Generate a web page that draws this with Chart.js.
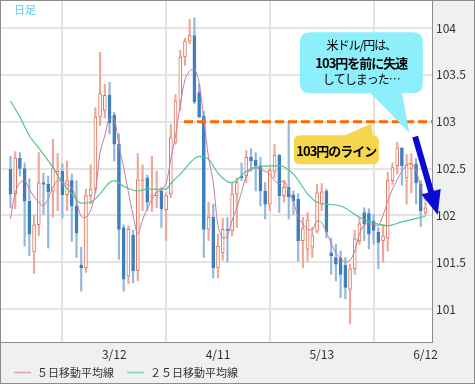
<!DOCTYPE html>
<html>
<head>
<meta charset="utf-8">
<script src="https://cdn.jsdelivr.net/npm/chart.js@4.4.1/dist/chart.umd.min.js"></script>
<style>
  html, body { margin: 0; padding: 0; background: #f0f0f0; }
  #wrap { width: 475px; height: 384px; }
</style>
</head>
<body>
<div id="wrap"><canvas id="usdjpy" width="475" height="384"></canvas></div>
<script>
// trading days (2014) - one candle per day
const dates = [
  '2/10','2/11','2/12','2/13','2/14','2/17','2/18','2/19','2/20','2/21','2/24','2/25','2/26','2/27','2/28',
  '3/3','3/4','3/5','3/6','3/7','3/10','3/11','3/12','3/13','3/14','3/17','3/18','3/19','3/20','3/21',
  '3/24','3/25','3/26','3/27','3/28','3/31',
  '4/1','4/2','4/3','4/4','4/7','4/8','4/9','4/10','4/11','4/14','4/15','4/16','4/17','4/18',
  '4/21','4/22','4/23','4/24','4/25','4/28','4/29','4/30',
  '5/1','5/2','5/5','5/6','5/7','5/8','5/9','5/12','5/13','5/14','5/15','5/16','5/19','5/20','5/21','5/22','5/23',
  '5/26','5/27','5/28','5/29','5/30',
  '6/2','6/3','6/4','6/5','6/6','6/9','6/10','6/11','6/12'
];

const open = [
  102.49,102.23,102.61,102.50,102.15,101.61,101.90,102.35,102.33,102.26,102.44,102.47,102.22,102.37,102.10,
  101.47,101.44,102.21,102.28,103.05,103.12,103.28,103.07,102.76,101.87,101.35,101.79,101.41,102.37,102.40,
  102.19,102.21,102.26,102.06,102.23,102.78,103.22,103.69,103.86,103.92,103.31,103.06,101.85,101.98,101.44,
  101.60,101.85,101.84,102.23,102.42,102.42,102.62,102.59,102.53,102.26,102.12,102.47,102.64,102.21,102.30,
  102.22,102.17,101.73,101.64,101.66,101.83,102.12,102.26,101.60,101.55,101.55,101.47,101.21,101.43,101.73,
  102.03,102.02,101.94,101.82,101.73,101.76,102.37,102.53,102.72,102.40,102.50,102.55,102.33,102.03
];
const high = [
  102.63,102.68,102.67,102.56,102.39,102.00,102.67,102.45,102.42,102.81,102.66,102.55,102.58,102.44,102.37,
  101.66,102.28,102.54,103.15,103.74,103.40,103.42,103.10,102.87,101.90,101.89,101.84,102.66,102.54,102.43,
  102.63,102.47,102.30,102.24,102.97,103.29,103.76,103.89,104.09,104.11,103.40,103.11,102.14,102.12,101.80,
  101.97,101.98,102.35,102.40,102.56,102.69,102.71,102.67,102.62,102.35,102.51,102.76,102.65,102.37,102.99,
  102.26,102.23,101.98,102.03,101.87,102.33,102.34,102.28,101.76,101.69,101.62,101.55,101.48,101.84,101.98,
  102.08,102.07,102.01,101.87,101.90,102.46,102.56,102.78,102.72,102.65,102.66,102.61,102.37,102.14
];
const low = [
  102.08,102.07,102.42,101.67,101.57,101.38,101.78,102.01,101.65,101.98,102.05,101.97,102.05,101.72,101.55,
  101.19,101.39,102.12,102.24,102.96,103.04,102.87,102.58,101.53,101.19,101.27,101.28,101.30,102.05,102.05,
  102.04,102.08,101.87,101.73,102.19,102.76,103.12,103.60,103.83,103.19,103.04,101.55,101.73,101.33,101.33,
  101.52,101.50,101.78,101.87,102.37,102.35,102.47,102.26,102.10,101.96,102.05,102.40,102.03,102.14,101.96,
  102.01,101.51,101.44,101.51,101.55,101.81,102.05,101.76,101.37,101.30,101.12,101.11,100.84,101.37,101.69,
  101.73,101.64,101.69,101.43,101.50,101.62,102.33,102.44,102.32,102.12,102.24,102.12,101.88,102.00
];
const close = [
  102.23,102.61,102.50,102.15,101.80,101.90,102.35,102.33,102.25,102.50,102.47,102.22,102.37,102.10,101.81,
  101.44,102.21,102.28,103.05,103.30,103.28,102.99,102.76,101.85,101.32,101.85,101.41,102.38,102.38,102.14,
  102.21,102.24,102.07,102.21,102.83,103.22,103.69,103.86,103.92,103.21,103.05,101.85,101.98,101.44,101.67,
  101.85,101.84,102.23,102.35,102.40,102.62,102.58,102.53,102.26,102.12,102.48,102.64,102.21,102.30,102.20,
  102.15,101.73,101.86,101.95,101.78,102.24,102.25,101.82,101.57,101.48,101.37,101.23,101.43,101.75,101.91,
  101.91,101.80,101.84,101.71,101.78,102.37,102.51,102.72,102.53,102.53,102.55,102.35,102.05,102.08
];

// 5-day moving average, read per candle
const ma5 = [
  101.96,102.24,102.35,102.37,102.28,102.20,102.14,102.10,102.18,102.30,102.37,102.36,102.33,102.30,102.15,
  101.99,101.98,102.05,102.25,102.67,102.85,103.04,103.03,102.75,102.51,102.25,102.00,101.80,101.95,102.07,
  102.17,102.25,102.27,102.34,102.60,102.85,103.18,103.45,103.54,103.56,103.42,103.02,102.62,102.35,101.89,
  101.76,101.78,101.95,102.08,102.25,102.42,102.50,102.51,102.49,102.47,102.44,102.37,102.34,102.37,102.25,
  102.15,101.98,101.91,101.85,101.85,101.94,101.92,101.82,101.70,101.60,101.54,101.50,101.52,101.62,101.80,
  101.90,101.91,101.90,101.89,102.00,102.15,102.28,102.38,102.47,102.54,102.55,102.48,102.30,102.15
];

// 25-day moving average, read at these candles
const ma25Idx = [0,2,4,6,9,11,13,15,17,19,21,22,24,27,29,33,34,36,40,42,44,46,47,50,52,57,60,63,65,70,74,77,80,83,88];
const ma25Val = [103.22,103.05,102.85,102.72,102.51,102.35,102.23,102.13,102.14,102.23,102.35,102.37,102.31,102.26,102.28,
  102.28,102.34,102.44,102.63,102.60,102.45,102.36,102.35,102.47,102.51,102.53,102.44,102.23,102.14,102.10,
  101.98,101.92,101.89,101.93,101.99];

const xTickIdx = [0, 22, 44, 66, 88];
const yTicks = [101, 101.5, 102, 102.5, 103, 103.5, 104];

const upLine = '#e2765c', upWick = '#f0a896';
const downFill = '#3d7fbf', downWick = '#92b8dd';
const isUp = i => close[i] >= open[i];

const FONT = "'Noto Sans CJK JP', 'Noto Sans', sans-serif";

function roundRect(ctx, x, y, w, h, r) {
  ctx.beginPath();
  ctx.moveTo(x + r, y);
  ctx.lineTo(x + w - r, y);
  ctx.quadraticCurveTo(x + w, y, x + w, y + r);
  ctx.lineTo(x + w, y + h - r);
  ctx.quadraticCurveTo(x + w, y + h, x + w - r, y + h);
  ctx.lineTo(x + r, y + h);
  ctx.quadraticCurveTo(x, y + h, x, y + h - r);
  ctx.lineTo(x, y + r);
  ctx.quadraticCurveTo(x, y, x + r, y);
  ctx.closePath();
}

// keep the plot area where we put it (no extra room for edge labels)
const noEdgePadding = s => {
  s.paddingTop = 0; s.paddingBottom = 0;
  s.paddingLeft = 0; s.paddingRight = 0;
};

// background, callouts, arrow and legend
const decor = {
  id: 'decor',
  beforeDraw(chart) {
    const { ctx, chartArea: a } = chart;
    ctx.save();
    ctx.fillStyle = '#f0f0f0';
    ctx.fillRect(0, 0, chart.width, chart.height);
    ctx.fillStyle = '#ffffff';
    ctx.fillRect(a.left, a.top, a.right - a.left, a.bottom - a.top);
    ctx.restore();
  },
  afterDatasetsDraw(chart) {
    const { ctx, chartArea: a } = chart;
    const x = chart.scales.x, y = chart.scales.y;
    ctx.save();

    // 103 yen line
    const ly = y.getPixelForValue(103);
    ctx.strokeStyle = '#ff6a00';
    ctx.lineWidth = 3;
    ctx.setLineDash([9, 4]);
    ctx.beginPath();
    ctx.moveTo(x.getPixelForValue(36.8), ly);
    ctx.lineTo(a.right, ly);
    ctx.stroke();
    ctx.setLineDash([]);

    // yellow label
    let cx = x.getPixelForValue(69.1), cy = y.getPixelForValue(102.70);
    let w = 85, h = 29, l = cx - w / 2, t = cy - h / 2;
    ctx.fillStyle = '#f6d64c';
    roundRect(ctx, l, t, w, h, 6);
    ctx.fill();
    ctx.beginPath();
    ctx.moveTo(l + 49, t + 1);
    ctx.lineTo(x.getPixelForValue(76.6), y.getPixelForValue(102.98));
    ctx.lineTo(l + 79, t + 1);
    ctx.closePath();
    ctx.fill();
    ctx.fillStyle = '#000';
    ctx.textAlign = 'center';
    ctx.textBaseline = 'middle';
    ctx.font = 'bold 13px ' + FONT;
    if ('letterSpacing' in ctx) ctx.letterSpacing = '-1px';
    ctx.fillText('103円のライン', cx, cy + 1);

    // cyan bubble
    cx = x.getPixelForValue(74.4); cy = y.getPixelForValue(103.63);
    w = 123; h = 61; l = cx - w / 2; t = cy - h / 2;
    ctx.fillStyle = '#8eeffc';
    roundRect(ctx, l, t, w, h, 10);
    ctx.fill();
    ctx.beginPath();
    ctx.moveTo(l + 70, t + h - 1);
    ctx.lineTo(x.getPixelForValue(84.6), y.getPixelForValue(102.88));
    ctx.lineTo(l + 102, t + h - 1);
    ctx.closePath();
    ctx.fill();
    ctx.fillStyle = '#000';
    ctx.font = '12px ' + FONT;
    ctx.fillText('米ドル/円は、', cx, cy - 17);
    ctx.font = 'bold 13px ' + FONT;
    ctx.fillText('103円を前に失速', cx, cy);
    ctx.font = '12px ' + FONT;
    ctx.fillText('してしまった…', cx, cy + 17);
    if ('letterSpacing' in ctx) ctx.letterSpacing = '0px';

    // blue arrow
    const sx = x.getPixelForValue(85.8), sy = y.getPixelForValue(102.84);
    const ex = x.getPixelForValue(90.6), ey = y.getPixelForValue(102.005);
    const len = Math.hypot(ex - sx, ey - sy);
    const ux = (ex - sx) / len, uy = (ey - sy) / len;
    const headLen = 24, headHalf = 10;
    const bx = ex - ux * headLen, by = ey - uy * headLen;
    ctx.strokeStyle = '#0a0ad2';
    ctx.lineWidth = 6;
    ctx.beginPath();
    ctx.moveTo(sx, sy);
    ctx.lineTo(bx + ux * 2, by + uy * 2);
    ctx.stroke();
    ctx.fillStyle = '#0a0ad2';
    ctx.beginPath();
    ctx.moveTo(ex, ey);
    ctx.lineTo(bx - uy * headHalf, by + ux * headHalf);
    ctx.lineTo(bx + uy * headHalf, by - ux * headHalf);
    ctx.closePath();
    ctx.fill();

    ctx.restore();
  },
  afterDraw(chart) {
    const { ctx } = chart;
    ctx.save();
    // 日足 label
    ctx.fillStyle = '#55ccee';
    ctx.font = '11px ' + FONT;
    ctx.textBaseline = 'middle';
    ctx.fillText('日足', 14, 10);

    // legend for the two averages
    const ly = chart.height - 12;
    const items = [
      { ds: chart.data.datasets[0], x: 14 },
      { ds: chart.data.datasets[1], x: 127 }
    ];
    items.forEach(it => {
      ctx.strokeStyle = it.ds.legendColor;
      ctx.lineWidth = 1.5;
      ctx.beginPath();
      ctx.moveTo(it.x, ly + 0.5);
      ctx.lineTo(it.x + 17, ly + 0.5);
      ctx.stroke();
      ctx.fillStyle = '#333';
      ctx.font = '11px ' + FONT;
      ctx.fillText(it.ds.label, it.x + 23, ly + 1);
    });

    // outer frame
    ctx.strokeStyle = '#8c8c8c';
    ctx.lineWidth = 1;
    ctx.strokeRect(0.5, 0.5, chart.width - 1, chart.height - 1);
    ctx.restore();
  }
};

const ctx = document.getElementById('usdjpy').getContext('2d');
new Chart(ctx, {
  type: 'bar',
  data: {
    datasets: [
      {
        type: 'line',
        label: '５日移動平均線',
        data: ma5.map((v, i) => ({ x: i, y: v })),
        borderColor: '#c77aa2',
        legendColor: '#d9a2c0',
        borderWidth: 1,
        pointRadius: 0,
        tension: 0.3
      },
      {
        type: 'line',
        label: '２５日移動平均線',
        data: ma25Idx.map((d, k) => ({ x: d, y: ma25Val[k] })),
        borderColor: '#4dc592',
        legendColor: '#7fd6b2',
        borderWidth: 1.2,
        pointRadius: 0,
        cubicInterpolationMode: 'monotone'
      },
      {
        label: 'body',
        data: open.map((o, i) => ({ x: i, y: [o, close[i]] })),
        grouped: false,
        barThickness: 3,
        borderWidth: 1,
        borderSkipped: false,
        backgroundColor: c => isUp(c.dataIndex) ? '#ffffff' : downFill,
        borderColor: c => isUp(c.dataIndex) ? upLine : downFill
      },
      {
        label: 'wick',
        data: low.map((lo, i) => ({ x: i, y: [lo, high[i]] })),
        grouped: false,
        barThickness: 1.5,
        borderWidth: 0,
        backgroundColor: c => isUp(c.dataIndex) ? upWick : downWick
      }
    ]
  },
  options: {
    responsive: false,
    animation: false,
    devicePixelRatio: 1,
    layout: { padding: { left: 1, top: 1, right: 0, bottom: 0 } },
    plugins: {
      legend: { display: false },
      tooltip: { enabled: false }
    },
    scales: {
      x: {
        type: 'linear',
        offset: false,
        min: -2.01,
        max: 89.38,
        afterBuildTicks: s => { s.ticks = xTickIdx.map(v => ({ value: v })); },
        afterFit: s => { s.height = 42; noEdgePadding(s); },
        grid: { color: '#e4e4e4', lineWidth: 2, drawTicks: false },
        border: { display: true, color: '#8c8c8c', width: 1 },
        ticks: {
          padding: 5,
          maxRotation: 0,
          autoSkip: false,
          color: '#333',
          font: { family: FONT, size: 12 },
          callback: v => v === 0 ? '' : dates[v]
        }
      },
      y: {
        position: 'right',
        min: 100.648,
        max: 104.288,
        afterBuildTicks: s => { s.ticks = yTicks.map(v => ({ value: v })); },
        afterFit: s => { s.width = 43; noEdgePadding(s); },
        grid: { color: '#e4e4e4', lineWidth: 2, drawTicks: false },
        border: { display: true, color: '#8c8c8c', width: 1 },
        ticks: {
          padding: 4,
          color: '#333',
          font: { family: FONT, size: 12 },
          callback: v => Number.isInteger(v) ? String(v) : v.toFixed(1)
        }
      }
    }
  },
  plugins: [decor]
});
</script>
</body>
</html>
